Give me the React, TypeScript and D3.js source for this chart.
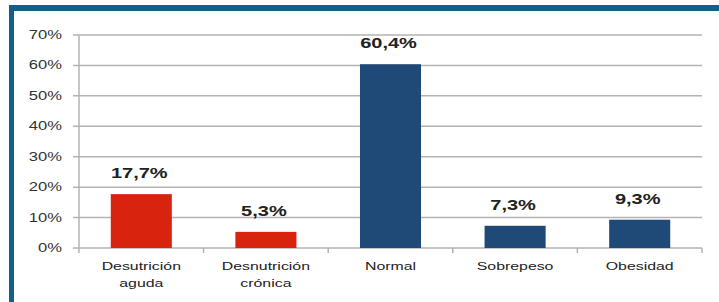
import React, { useEffect, useRef } from 'react';
import * as d3 from 'd3';

// categories (two lines each), values in %
const categories = ['Desutrición aguda', 'Desnutrición crónica', 'Normal', 'Sobrepeso', 'Obesidad'];
const categoryLines = [['Desutrición', 'aguda'], ['Desnutrición', 'crónica'], ['Normal'], ['Sobrepeso'], ['Obesidad']];
const values = [17.7, 5.3, 60.4, 7.3, 9.3];
const valueLabels = ['17,7%', '5,3%', '60,4%', '7,3%', '9,3%'];
const barColors = ['#d8230f', '#d8230f', '#1f4a78', '#1f4a78', '#1f4a78'];
const yTicks = [0, 10, 20, 30, 40, 50, 60, 70];

const W = 719;
const H = 302;
const stretch = 1.38; // picture text is horizontally wide

const App = () => {
  const ref = useRef<SVGSVGElement>(null);

  useEffect(() => {
    const svg = d3.select(ref.current);
    svg.selectAll('*').remove();

    const margins = { top: 35, left: 79, right: 17, bottom: 54 };
    const x = d3.scaleBand().domain(categories).range([margins.left, W - margins.right]).paddingInner(0.51).paddingOuter(0.255);
    const y = d3.scaleLinear().domain([0, 70]).range([H - margins.bottom, margins.top]);
    const step = x.step();
    const x0 = margins.left;

    // frame
    svg.append('rect').attr('x', 0).attr('y', 0).attr('width', W).attr('height', H).attr('fill', '#fff');
    svg.append('rect').attr('x', 9).attr('y', 5).attr('width', W - 9).attr('height', 6).attr('fill', '#12608a');
    svg.append('rect').attr('x', 9).attr('y', 5).attr('width', 5).attr('height', H - 5).attr('fill', '#12608a');

    // gridlines + y tick marks
    svg.append('g')
      .selectAll('line')
      .data(yTicks)
      .join('line')
      .attr('x1', x0 - 6)
      .attr('x2', W - margins.right)
      .attr('y1', (d) => y(d))
      .attr('y2', (d) => y(d))
      .attr('stroke', '#b3b3b3')
      .attr('stroke-width', 1.5);

    // y axis line
    svg.append('line')
      .attr('x1', x0).attr('x2', x0)
      .attr('y1', y(70)).attr('y2', y(0))
      .attr('stroke', '#b3b3b3').attr('stroke-width', 1.5);

    // category ticks
    svg.append('g')
      .selectAll('line')
      .data(d3.range(categories.length + 1))
      .join('line')
      .attr('x1', (i) => x0 + i * step)
      .attr('x2', (i) => x0 + i * step)
      .attr('y1', y(0))
      .attr('y2', y(0) + 5)
      .attr('stroke', '#b3b3b3')
      .attr('stroke-width', 1.5);

    // y tick labels
    svg.append('g')
      .selectAll('g')
      .data(yTicks)
      .join('g')
      .attr('transform', (d) => `translate(62,${y(d) + 4}) scale(${stretch},1)`)
      .append('text')
      .attr('text-anchor', 'end')
      .style('font-family', 'Liberation Sans, Arial, sans-serif')
      .style('font-size', '12px')
      .style('fill', '#333')
      .text((d) => d + '%');

    // bars
    svg.append('g')
      .selectAll('rect')
      .data(values)
      .join('rect')
      .attr('x', (d, i) => x(categories[i]) as number)
      .attr('y', (d) => y(d))
      .attr('width', x.bandwidth())
      .attr('height', (d) => y(0) - y(d))
      .attr('fill', (d, i) => barColors[i]);

    // value labels
    svg.append('g')
      .selectAll('g')
      .data(values)
      .join('g')
      .attr('transform', (d, i) => `translate(${(x(categories[i]) as number) + x.bandwidth() / 2 - 2},${y(d) - 16}) scale(${stretch},1)`)
      .append('text')
      .attr('text-anchor', 'middle')
      .style('font-family', 'Liberation Sans, Arial, sans-serif')
      .style('font-size', '14.5px')
      .style('font-weight', 'bold')
      .style('fill', '#222')
      .text((d, i) => valueLabels[i]);

    // category labels
    const cat = svg.append('g')
      .selectAll('g')
      .data(categories)
      .join('g')
      .attr('transform', (d) => `translate(${(x(d) as number) + x.bandwidth() / 2},0) scale(${stretch},1)`);
    cat.each(function (d, i) {
      d3.select(this)
        .selectAll('text')
        .data(categoryLines[i])
        .join('text')
        .attr('x', 0)
        .attr('y', (t, j) => y(0) + 22 + j * 17)
        .attr('text-anchor', 'middle')
        .style('font-family', 'Liberation Sans, Arial, sans-serif')
        .style('font-size', '11.5px')
        .style('fill', '#222')
        .text((t) => t);
    });
  }, []);

  return (
    <svg ref={ref} width={W} height={H} style={{ position: 'absolute', left: 0, top: 0, display: 'block' }}></svg>
  );
};

export default App;
